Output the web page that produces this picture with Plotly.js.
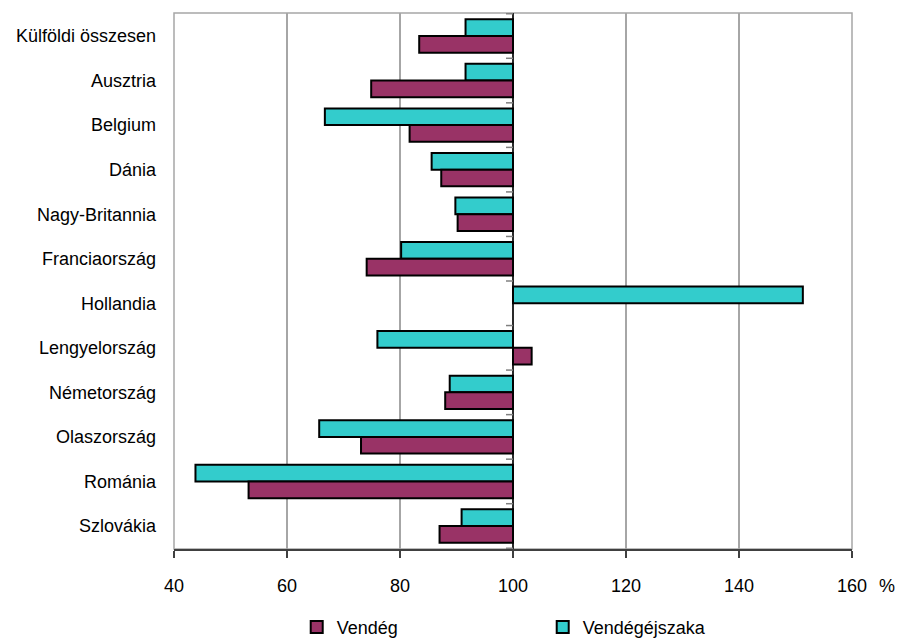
<!DOCTYPE html>
<html>
<head>
<meta charset="utf-8">
<script src="https://cdn.plot.ly/plotly-3.0.1.min.js"></script>
<style>
html,body{margin:0;padding:0;background:#fff;}
#chart{width:897px;height:639px;}
</style>
</head>
<body>
<div id="chart"></div>
<script>
var categories = ["Külföldi összesen","Ausztria","Belgium","Dánia","Nagy-Britannia","Franciaország","Hollandia","Lengyelország","Németország","Olaszország","Románia","Szlovákia"];
var vendeg = [83.4, 74.9, 81.7, 87.3, 90.2, 74.1, null, 103.3, 88.0, 73.1, 53.2, 87.0];
var vendegejszaka = [91.6, 91.6, 66.7, 85.6, 89.8, 80.2, 151.3, 76.0, 88.8, 65.7, 43.8, 90.9];
var baseValue = 100;
var xTicks = [40, 60, 80, 100, 120, 140, 160];

function lengths(arr){ return arr.map(function(v){ return v === null ? null : v - baseValue; }); }
function bases(arr){ return arr.map(function(){ return baseValue; }); }

var font = "'Liberation Sans', Arial, sans-serif";
var fs = 18;

var traceVE = {
  type: 'bar', orientation: 'h', name: 'Vendégéjszaka',
  y: categories, x: lengths(vendegejszaka), base: bases(vendegejszaka),
  marker: {color: '#33CCCC', line: {color: '#000000', width: 2}},
  legendrank: 2, hoverinfo: 'skip'
};
var traceV = {
  type: 'bar', orientation: 'h', name: 'Vendég',
  y: categories, x: lengths(vendeg), base: bases(vendeg),
  marker: {color: '#993366', line: {color: '#000000', width: 2}},
  legendrank: 1, hoverinfo: 'skip'
};

var shapes = [];
shapes.push({type: 'rect', xref: 'paper', yref: 'paper', x0: 0, x1: 1, y0: 0, y1: 1,
  line: {color: '#a6a6a6', width: 1.5}, fillcolor: 'rgba(0,0,0,0)', layer: 'below'});
// vertical axis line at base value
shapes.push({type: 'line', xref: 'x', yref: 'paper', x0: baseValue, x1: baseValue, y0: 0, y1: 1,
  line: {color: '#000000', width: 1.5}, layer: 'above'});
// category separator ticks on the base line
for (var i = 0; i <= categories.length; i++) {
  shapes.push({type: 'line', xref: 'x', yref: 'y', xsizemode: 'pixel', xanchor: baseValue,
    x0: -7, x1: 0, y0: i - 0.5, y1: i - 0.5, line: {color: '#808080', width: 1.5}, layer: 'above'});
}

var layout = {
  width: 897, height: 639,
  margin: {l: 174, r: 45, t: 13, b: 90, autoexpand: false},
  paper_bgcolor: '#ffffff', plot_bgcolor: '#ffffff',
  font: {family: font, size: fs, color: '#000000'},
  barmode: 'group', bargap: 0.25, bargroupgap: 0,
  showlegend: true,
  legend: {orientation: 'h', x: 0.181, xanchor: 'left', y: -0.146, yanchor: 'middle',
    entrywidth: 201, entrywidthmode: 'pixels', font: {family: font, size: fs, color: '#000000'},
    traceorder: 'normal'},
  xaxis: {
    range: [40, 160], tickvals: xTicks, ticktext: xTicks.map(String),
    showgrid: true, gridcolor: '#a6a6a6', gridwidth: 1.2,
    zeroline: false, showline: true, linecolor: '#404040', linewidth: 2,
    ticks: 'outside', ticklen: 7, tickcolor: '#404040', tickwidth: 1.5,
    ticklabelstandoff: 12, automargin: false,
    tickfont: {family: font, size: fs, color: '#000000'}
  },
  yaxis: {
    type: 'category', autorange: 'reversed', automargin: false,
    showgrid: false, zeroline: false, showline: false, ticks: '',
    ticklabelstandoff: 17,
    tickfont: {family: font, size: fs, color: '#000000'}
  },
  shapes: shapes,
  annotations: [
    {xref: 'paper', yref: 'paper', x: 1, y: 0, xanchor: 'center', yanchor: 'middle',
     xshift: 35, yshift: -37, text: '%', showarrow: false,
     font: {family: font, size: fs, color: '#000000'}}
  ]
};

Plotly.newPlot('chart', [traceVE, traceV], layout, {displayModeBar: false, staticPlot: true});
</script>
</body>
</html>
